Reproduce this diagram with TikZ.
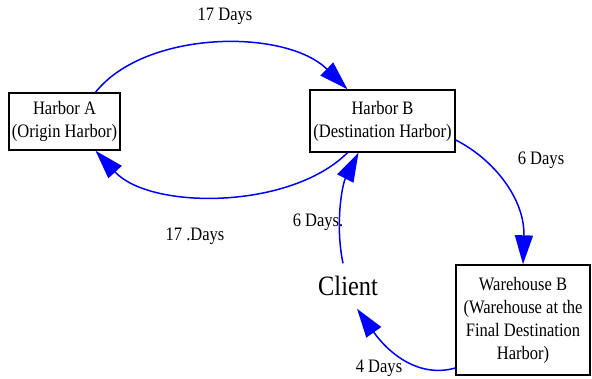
\documentclass[tikz,border=0pt]{standalone}
\usepackage{fontspec}
\setmainfont[FakeStretch=0.87]{Liberation Serif}
\usetikzlibrary{arrows.meta}
\begin{document}
\begin{tikzpicture}[x=1pt,y=-1pt,
 box/.style={draw, line width=1.4pt, align=center, inner sep=0pt, font=\fontsize{19}{23}\selectfont},
 lbl/.style={font=\fontsize{19}{23}\selectfont, inner sep=0pt},
 conn/.style={blue, line width=1.5pt, -{Triangle[length=29pt,width=18pt]}}]
\useasboundingbox[fill=white] (0,0) rectangle (592,379);
\node[box, minimum width=111pt, minimum height=57pt] (a) at (64.5,121.5) {Harbor A\\(Origin Harbor)};
\node[box, minimum width=145pt, minimum height=62pt] (b) at (382.5,121) {Harbor B\\(Destination Harbor)};
\node[box, minimum width=134pt, minimum height=110pt] (w) at (523,320) {Warehouse B\\(Warehouse at the\\Final Destination\\Harbor)};
\node[font=\fontsize{28}{30}\selectfont, inner sep=0pt, minimum height=45pt] (c) at (348,286) {Client};
\draw[conn] ([xshift=31pt]a.north) .. controls (145,30) and (285,28) .. ([xshift=-35pt]b.north);
\draw[conn] ([xshift=-35pt]b.south) .. controls (290,210) and (150,210) .. ([xshift=31pt]a.south);
\draw[conn] ([yshift=-19pt]b.east) .. controls (495,160) and (525,200) .. (w.north);
\draw[conn] ([xshift=-5pt]c.north) .. controls (335,225) and (342,185) .. ([xshift=-24pt]b.south);
\draw[conn] ([yshift=-48pt]w.west) .. controls (420,378) and (390,355) .. ([xshift=9pt]c.south);
\node[lbl] (l1) at (225,16) {17 Days};
\node[lbl] (l2) at (195,236) {17 .Days};
\node[lbl] (l3) at (541,160) {6 Days};
\node[lbl] (l4) at (318,222) {6 Days.};
\node[lbl] (l5) at (379,368) {4 Days};
\end{tikzpicture}
\end{document}
